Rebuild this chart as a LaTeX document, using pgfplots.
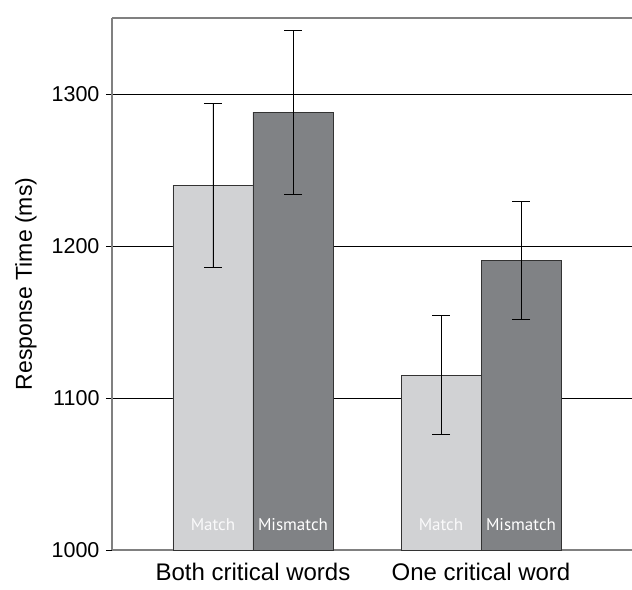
\documentclass[border=0pt]{standalone}
\usepackage{pgfplots}
\pgfplotsset{compat=1.18}
\usepackage{fontspec}
\setmainfont{Liberation Sans}
\newfontfamily\barfont{PT Sans}
\definecolor{lightbar}{HTML}{D1D2D4}
\definecolor{darkbar}{HTML}{808285}
\definecolor{axgray}{HTML}{808080}
\begin{document}
\begin{tikzpicture}
\begin{axis}[
  scale only axis,
  width=520pt, height=532pt,
  xmin=112, xmax=632,
  ymin=1000, ymax=1350,
  axis x line*=bottom, axis y line*=left,
  axis line style={axgray, line width=1.3pt},
  xtick={253,481},
  xticklabels={Both critical words, One critical word},
  x tick label style={font=\fontsize{24}{28}\selectfont, yshift=-4pt},
  major x tick style={draw=none},
  ytick={1000,1100,1200,1300},
  y tick label style={font=\fontsize{21.5}{26}\selectfont, xshift=-3pt},
  /pgf/number format/assume math mode=true,
  /pgf/number format/1000 sep={},
  tick align=outside,
  major tick length=6pt,
  y tick style={black, line width=0.8pt},
  ymajorgrids,
  grid style={black, line width=0.8pt},
  ylabel={Response Time (ms)},
  ylabel style={font=\fontsize{23}{28}\selectfont, yshift=8pt},
  clip=false,
  ybar, bar shift=0pt, bar width=80,
]
\addplot[fill=lightbar, draw=black!80, line width=0.6pt,
  error bars/.cd, y dir=both, y explicit,
  error bar style={black, line width=0.9pt},
  error mark options={rotate=90, mark size=9pt, line width=0.9pt}]
  coordinates {(213,1240) +- (0,54) (441,1115) +- (0,39)};
\addplot[fill=darkbar, draw=black!80, line width=0.6pt,
  error bars/.cd, y dir=both, y explicit,
  error bar style={black, line width=0.9pt},
  error mark options={rotate=90, mark size=9pt, line width=0.9pt}]
  coordinates {(293,1288) +- (0,54) (521,1190.5) +- (0,39)};
\draw[axgray, line width=1.3pt] (rel axis cs:0,1) -- (rel axis cs:1,1);
\node[font=\barfont\fontsize{17}{20}\selectfont, text=white!90!lightbar] at (axis cs:213,1016.5) {Match};
\node[font=\barfont\fontsize{17}{20}\selectfont, text=white] at (axis cs:293,1016.5) {Mismatch};
\node[font=\barfont\fontsize{17}{20}\selectfont, text=white!90!lightbar] at (axis cs:441,1016.5) {Match};
\node[font=\barfont\fontsize{17}{20}\selectfont, text=white] at (axis cs:521,1016.5) {Mismatch};
\coordinate (bl) at ([xshift=-112pt, yshift=-40pt]rel axis cs:0,0);
\coordinate (tr) at ([yshift=18pt]rel axis cs:1,1);
\end{axis}
\pgfresetboundingbox
\useasboundingbox (bl) rectangle (tr);
\end{tikzpicture}
\end{document}
